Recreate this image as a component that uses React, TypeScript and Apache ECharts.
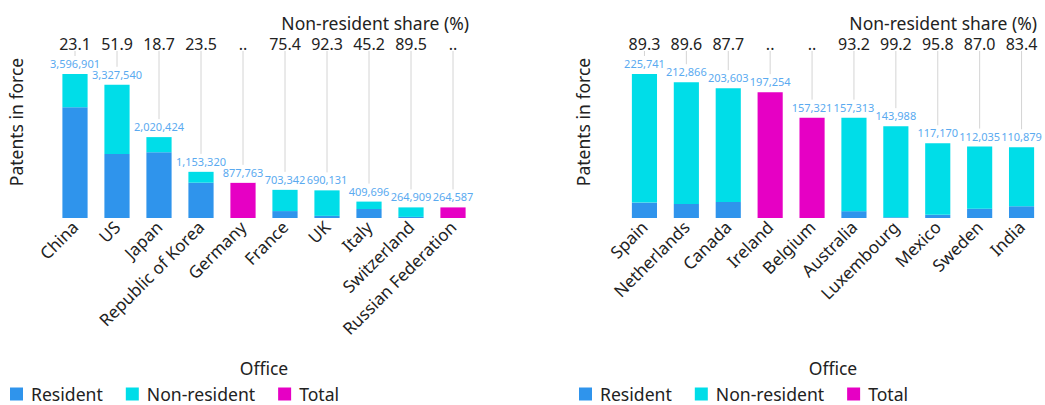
import React, { useEffect, useRef } from "react";
import * as echarts from "echarts";

// Left panel
const leftOffices = ["China", "US", "Japan", "Republic of Korea", "Germany", "France", "UK", "Italy", "Switzerland", "Russian Federation"];
const leftShare = ["23.1", "51.9", "18.7", "23.5", "..", "75.4", "92.3", "45.2", "89.5", ".."];
const leftTotal = [3596901, 3327540, 2020424, 1153320, 877763, 703342, 690131, 409696, 264909, 264587];
const leftResident = [2766017, 1599547, 1642605, 882290, null, 173022, 53140, 224513, 27815, null];
const leftNonResident = [830884, 1727993, 377819, 271030, null, 530320, 636991, 185183, 237094, null];
const leftTotalOnly = [null, null, null, null, 877763, null, null, null, null, 264587];

// Right panel
const rightOffices = ["Spain", "Netherlands", "Canada", "Ireland", "Belgium", "Australia", "Luxembourg", "Mexico", "Sweden", "India"];
const rightShare = ["89.3", "89.6", "87.7", "..", "..", "93.2", "99.2", "95.8", "87.0", "83.4"];
const rightTotal = [225741, 212866, 203603, 197254, 157321, 157313, 143988, 117170, 112035, 110879];
const rightResident = [24154, 22138, 25043, null, null, 10697, 1152, 4921, 14565, 18406];
const rightNonResident = [201587, 190728, 178560, null, null, 146616, 142836, 112249, 97470, 92473];
const rightTotalOnly = [null, null, null, 197254, 157321, null, null, null, null, null];

const leftYMax = 4796000;
const rightYMax = 301000;

const C_RES = "#2f94ec";
const C_NON = "#00dde8";
const C_TOT = "#e600c4";
const C_LABEL = "#5aaaf0";
const C_TEXT = "#222222";
const FONT = "Noto Sans";

function fmt(n: number) {
  return n.toLocaleString("en-US");
}

function labelSeries(idx: number, totals: number[]) {
  return {
    type: "custom",
    xAxisIndex: idx * 2,
    yAxisIndex: idx,
    silent: true,
    z: 10,
    clip: false,
    data: totals.map((v, i) => [i, v]),
    renderItem: (params: any, api: any) => {
      const i = api.value(0);
      const v = api.value(1);
      const p = api.coord([i, v]);
      const top = params.coordSys.y;
      return {
        type: "group",
        children: [
          {
            type: "line",
            shape: { x1: p[0], y1: top + 25, x2: p[0], y2: p[1] - 18 },
            style: { stroke: "#d4d4d4", lineWidth: 1 },
          },
          {
            type: "text",
            x: p[0],
            y: p[1] - 5,
            style: {
              text: fmt(v),
              fill: C_LABEL,
              font: `11px "${FONT}"`,
              align: "center",
              verticalAlign: "bottom",
            },
          },
        ],
      };
    },
  };
}

export default function App() {
  const ref = useRef<HTMLDivElement>(null);
  useEffect(() => {
    if (!ref.current) return;
    const chart = echarts.init(ref.current, null, { renderer: "svg" });
    const grids = [
      { left: 54, top: 26, width: 420, height: 192, outerBoundsMode: "none", containLabel: false },
      { left: 623.5, top: 26, width: 419, height: 192, outerBoundsMode: "none", containLabel: false },
    ];
    const panels = [
      { cats: leftOffices, share: leftShare, yMax: leftYMax, yGap: 29 },
      { cats: rightOffices, share: rightShare, yMax: rightYMax, yGap: 32 },
    ];
    const xAxis: any[] = [];
    const yAxis: any[] = [];
    panels.forEach((p, idx) => {
      xAxis.push({
        type: "category",
        gridIndex: idx,
        data: p.cats,
        position: "bottom",
        axisLine: { show: false },
        axisTick: { show: false },
        axisLabel: { rotate: 45, margin: 6, interval: 0, fontSize: 17, color: C_TEXT, fontFamily: FONT },
        name: "Office",
        nameLocation: "middle",
        nameGap: 141,
        nameTextStyle: { fontSize: 17.5, color: C_TEXT, fontFamily: FONT },
      });
      xAxis.push({
        type: "category",
        gridIndex: idx,
        data: p.share,
        position: "top",
        axisLine: { show: false },
        axisTick: { show: false },
        axisLabel: { inside: true, margin: 9.5, interval: 0, fontSize: 16, lineHeight: 16, color: C_TEXT, fontFamily: FONT },
      });
      yAxis.push({
        type: "value",
        gridIndex: idx,
        min: 0,
        max: p.yMax,
        axisLine: { show: false },
        axisTick: { show: false },
        axisLabel: { show: false },
        splitLine: { show: false },
        name: "Patents in force",
        nameLocation: "middle",
        nameGap: p.yGap,
        nameTextStyle: { fontSize: 17.5, color: C_TEXT, fontFamily: FONT },
      });
    });

    const barSeries = (idx: number, res: any[], non: any[], tot: any[]) => [
      { name: "Resident", type: "bar", stack: "s" + idx, xAxisIndex: idx * 2, yAxisIndex: idx, barWidth: "60%", itemStyle: { color: C_RES }, data: res },
      { name: "Non-resident", type: "bar", stack: "s" + idx, xAxisIndex: idx * 2, yAxisIndex: idx, barWidth: "60%", itemStyle: { color: C_NON }, data: non },
      { name: "Total", type: "bar", stack: "s" + idx, xAxisIndex: idx * 2, yAxisIndex: idx, barWidth: "60%", itemStyle: { color: C_TOT }, data: tot },
    ];

    const legendBase = {
      data: ["Resident", "Non-resident", "Total"],
      icon: "rect",
      itemWidth: 13,
      itemHeight: 13,
      itemGap: 23,
      padding: 0,
      top: 385,
      selectedMode: false,
      textStyle: { fontSize: 17.6, color: C_TEXT, fontFamily: FONT, padding: [0, 0, 0, 3] },
    };

    const titleBase = {
      text: "Non-resident share (%)",
      top: 14,
      padding: 0,
      textStyle: { fontSize: 17.5, lineHeight: 18, fontWeight: "normal", color: C_TEXT, fontFamily: FONT },
    };

    chart.setOption({
      animation: false,
      textStyle: { fontFamily: FONT },
      title: [
        { ...titleBase, right: 576 },
        { ...titleBase, right: 8 },
      ],
      grid: grids,
      xAxis,
      yAxis,
      legend: [
        { ...legendBase, left: 10 },
        { ...legendBase, left: 579 },
      ],
      series: [
        ...barSeries(0, leftResident, leftNonResident, leftTotalOnly),
        ...barSeries(1, rightResident, rightNonResident, rightTotalOnly),
        labelSeries(0, leftTotal),
        labelSeries(1, rightTotal),
      ],
    });
    return () => chart.dispose();
  }, []);
  return (
    <div
      ref={ref}
      style={{ position: "fixed", left: 0, top: 0, width: 1045, height: 405, background: "#fff" }}
    />
  );
}
